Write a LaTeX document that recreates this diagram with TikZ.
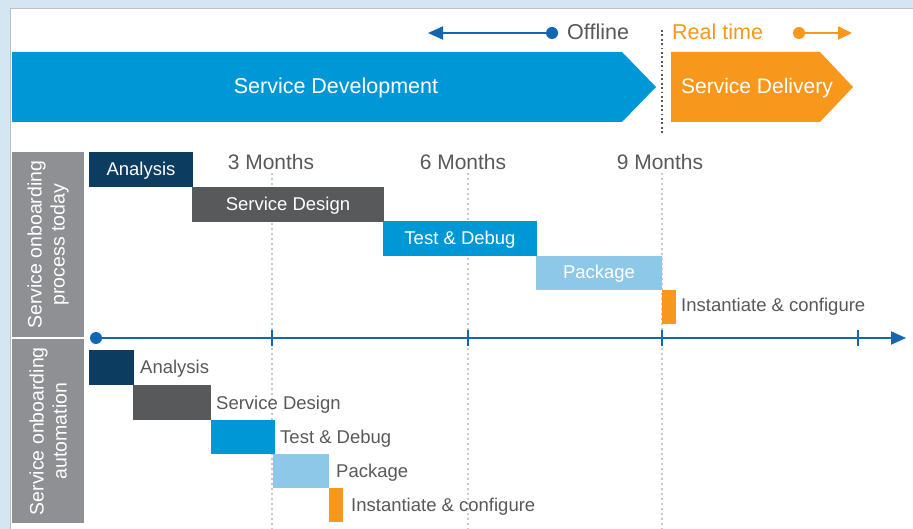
\documentclass[tikz,border=0pt]{standalone}
\usepackage{fontspec}
\setmainfont{Liberation Sans}
\usetikzlibrary{arrows.meta}
\definecolor{bgblue}{HTML}{D3E6F2}
\definecolor{devblue}{HTML}{0097D6}
\definecolor{delorange}{HTML}{F7981D}
\definecolor{navy}{HTML}{0C3C60}
\definecolor{dgray}{HTML}{58595B}
\definecolor{lblue}{HTML}{8DC8E8}
\definecolor{axisblue}{HTML}{1167B1}
\definecolor{txtgray}{HTML}{58595B}
\definecolor{sidegray}{HTML}{8E9094}
\definecolor{gridgray}{HTML}{C8C8C8}
\tikzset{
  bar/.style={anchor=north west, inner sep=0pt, outer sep=0pt, text=white, text height=14pt, text depth=2pt, font=\fontsize{18.5}{22}\selectfont},
  lbl/.style={anchor=west, inner sep=0pt, text=txtgray, text height=14pt, text depth=2pt, font=\fontsize{18.5}{22}\selectfont},
  head/.style={inner sep=0pt, text height=16pt, text depth=2pt, font=\fontsize{21.5}{24}\selectfont},
  month/.style={inner sep=0pt, text=txtgray, text height=16pt, text depth=1.5pt, font=\fontsize{21}{24}\selectfont},
  side/.style={fill=sidegray, anchor=north west, inner sep=0pt, minimum width=72pt},
  sidetext/.style={rotate=90, align=center, text=white, inner sep=0pt, font=\fontsize{19.5}{23}\selectfont},
  grid/.style={draw=gridgray, line width=2pt, dash pattern=on 2pt off 3pt},
  axisline/.style={draw=axisblue, line width=2pt},
  tick/.style={draw=axisblue, line width=2pt},
  dot/.style={circle, inner sep=0pt, minimum size=12pt},
}
\begin{document}
\begin{tikzpicture}[x=1pt,y=-1pt]
\useasboundingbox (0,0) rectangle (913,529);
% background frame
\fill[bgblue] (0,0) rectangle (913,529);
\fill[white] (10,8) rectangle (913,529);
\draw[gray!50, line width=1.2pt] (10.5,529) -- (10.5,8.5) -- (913,8.5);

% header arrows
\fill[devblue] (12,52) -- (622,52) -- (656,87) -- (622,122) -- (12,122) -- cycle;
\node[head, text=white] (dev) at (336,87) {Service Development};
\fill[delorange] (671,52) -- (820,52) -- (853,87) -- (820,122) -- (671,122) -- cycle;
\node[head, text=white, font=\fontsize{21}{24}\selectfont] (del) at (757,87) {Service Delivery};
\draw[dgray, line width=1.8pt, dash pattern=on 1.8pt off 2.6pt] (662,30) -- (662,135);

% offline / real time
\node[dot, fill=axisblue] (offdot) at (552,33) {};
\coordinate (offend) at (428,33);
\draw[axisblue, line width=2pt, -{Triangle[length=15pt,width=13pt]}] (offdot) -- (offend);
\node[head, anchor=west, text=txtgray] (offline) at (567,33) {Offline};
\node[head, anchor=west, text=delorange] (realtime) at (672,33) {Real time};
\node[dot, fill=delorange] (rtdot) at (799,33) {};
\coordinate (rtend) at (852,33);
\draw[delorange, line width=2pt, -{Triangle[length=14pt,width=13pt]}] (rtdot) -- (rtend);

% side labels
\node[side, minimum height=185pt] (sidetop) at (12,152) {};
\node[sidetext] (sidetoptext) at (sidetop.center) {Service onboarding\\process today};
\node[side, minimum height=184pt] (sidebot) at (12,339) {};
\node[sidetext] (sidebottext) at (sidebot.center) {Service onboarding\\automation};

% grid lines
\draw[grid] (272,173) -- (272,529);
\draw[grid] (468,173) -- (468,529);
\draw[grid] (662,173) -- (662,529);

% month labels
\node[month] (m3) at (271,162) {3 Months};
\node[month] (m6) at (463,162) {6 Months};
\node[month] (m9) at (660,162) {9 Months};

% top gantt
\node[bar, fill=navy, minimum width=104pt, minimum height=35pt] (ta) at (89,152) {Analysis};
\node[bar, fill=dgray, minimum width=192pt, minimum height=35pt] (tsd) at (192,187) {Service Design};
\node[bar, fill=devblue, minimum width=154pt, minimum height=35pt] (ttd) at (383,221) {Test \& Debug};
\node[bar, fill=lblue, minimum width=126pt, minimum height=34pt] (tp) at (536,256) {Package};
\node[bar, fill=delorange, minimum width=14pt, minimum height=34pt] (ti) at (662,290) {};
\node[lbl] (tilbl) at (681,306) {Instantiate \& configure};

% axis
\node[dot, fill=axisblue] (axstart) at (96,338) {};
\coordinate (axend) at (906,338);
\draw[axisline, -{Triangle[length=15pt,width=13pt]}] (axstart) -- (axend);
\foreach \x/\n in {272/t3,468/t6,662/t9,858/t12} {
  \coordinate (\n a) at (\x,330);
  \coordinate (\n b) at (\x,346);
  \draw[tick] (\n a) -- (\n b);
}

% bottom gantt
\node[bar, fill=navy, minimum width=45pt, minimum height=35pt] (ba) at (89,350) {};
\node[lbl] (balbl) at (140,367) {Analysis};
\node[bar, fill=dgray, minimum width=78pt, minimum height=35pt] (bsd) at (133,385) {};
\node[lbl] (bsdlbl) at (216,403) {Service Design};
\node[bar, fill=devblue, minimum width=64pt, minimum height=34pt] (btd) at (211,420) {};
\node[lbl] (btdlbl) at (280,437) {Test \& Debug};
\node[bar, fill=lblue, minimum width=56pt, minimum height=34pt] (bp) at (273,454) {};
\node[lbl] (bplbl) at (336,471) {Package};
\node[bar, fill=delorange, minimum width=14pt, minimum height=34pt] (bi) at (329,488) {};
\node[lbl] (bilbl) at (351,505) {Instantiate \& configure};
\end{tikzpicture}
\end{document}
